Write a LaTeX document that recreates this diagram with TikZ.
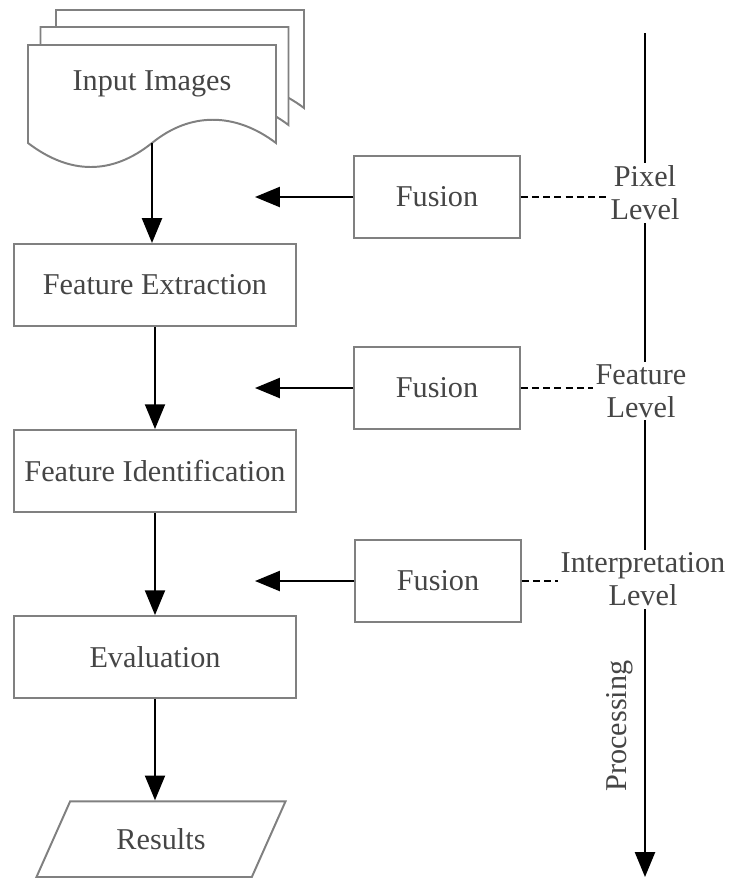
\documentclass[tikz,border=0pt]{standalone}
\usepackage{fontspec}
\setmainfont{Liberation Serif}
\usetikzlibrary{shapes.geometric, arrows.meta}
\definecolor{boxgray}{HTML}{808080}
\definecolor{txtgray}{HTML}{454545}
\tikzstyle{process} = [rectangle, minimum width=7.05cm, minimum height=2.05cm, text centered, draw=boxgray, line width=1.4pt, fill=white, text=txtgray]
\tikzstyle{fusion} = [rectangle, minimum width=4.125cm, minimum height=2.05cm, text centered, draw=boxgray, line width=1.4pt, text=txtgray]
\tikzstyle{resultbox} = [trapezium, trapezium left angle=66, trapezium right angle=114, trapezium stretches body, minimum width=6.225cm, inner ysep=0.68cm, text centered, draw=boxgray, line width=1.4pt, text=txtgray]
\tikzstyle{lvl} = [fill=white, align=center, text=txtgray, inner sep=2pt]
\tikzstyle{docpage} = [draw=boxgray, line width=1.4pt, fill=white]
\tikzstyle{arrow} = [line width=1.4pt, -{Triangle[length=0.62cm,width=0.5cm]}]
\tikzstyle{dashlink} = [line width=1.3pt, dash pattern=on 5pt off 3pt]

\begin{document}
\begin{tikzpicture}[x=0.025cm, y=0.025cm, node distance=4.65cm, every node/.style={font=\fontsize{21.5}{23.5}\selectfont}]
\useasboundingbox (0,0) rectangle (731,-884);

% stacked input pages
\draw[docpage, shift={(28,35)}] (28,-45) -- (276,-45) -- (276,-143) .. controls (235,-112) and (190,-112) .. (152,-143) .. controls (112,-175) and (70,-175) .. (28,-143) -- cycle;
\draw[docpage, shift={(12.5,18)}] (28,-45) -- (276,-45) -- (276,-143) .. controls (235,-112) and (190,-112) .. (152,-143) .. controls (112,-175) and (70,-175) .. (28,-143) -- cycle;
\draw[docpage] (28,-45) -- (276,-45) -- (276,-143) .. controls (235,-112) and (190,-112) .. (152,-143) .. controls (112,-175) and (70,-175) .. (28,-143) -- cycle;
\node (input) at (152,-84) {\textcolor{txtgray}{Input Images}};
\coordinate (inbot) at (152,-143);

% main chain
\node (fe) [process] at (155,-285) {Feature Extraction};
\node (fi) [process, below of=fe] {Feature Identification};
\node (ev) [process, below of=fi] {Evaluation};
\node (res) [resultbox, below of=ev, yshift=0.1cm, xshift=0.15cm] {Results};
\draw [arrow] (inbot) -- (inbot |- fe.north);
\draw [arrow] (fe) -- (fi);
\draw [arrow] (fi) -- (ev);
\draw [arrow] (ev.south) -- (ev.south |- res.north);

% fusion stages
\node (fu1) [fusion] at (437,-197) {Fusion};
\node (fu2) [fusion] at (437,-388) {Fusion};
\node (fu3) [fusion] at (438,-581) {Fusion};
\coordinate (tip1) at (255,-197);
\coordinate (tip2) at (255,-388);
\coordinate (tip3) at (255,-581);
\draw [arrow] (fu1) -- (tip1);
\draw [arrow] (fu2) -- (tip2);
\draw [arrow] (fu3) -- (tip3);

% processing axis
\coordinate (axtop) at (645,-33);
\coordinate (axbot) at (645,-877);
\draw [arrow] (axtop) -- (axbot);
\node (lv1) [lvl] at (645,-193) {Pixel\\Level};
\node (lv2) [lvl] at (641,-391) {Feature\\Level};
\node (lv3) [lvl] at (643,-579) {Interpretation\\Level};
\node (proc) [rotate=90, text=txtgray] at (620,-726) {Processing};

\draw [dashlink] (fu1.east) -- (fu1.east -| lv1.west);
\draw [dashlink] (fu2.east) -- (fu2.east -| lv2.west);
\draw [dashlink] (fu3.east) -- (fu3.east -| lv3.west);

\end{tikzpicture}
\end{document}
